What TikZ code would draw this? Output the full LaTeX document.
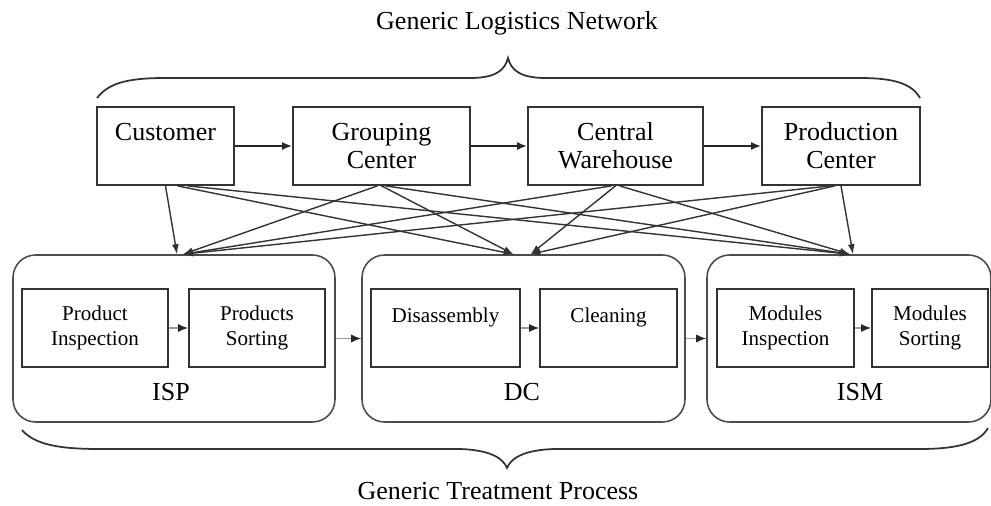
\documentclass[tikz,border=0pt]{standalone}
\usepackage{fontspec}
\setmainfont{Liberation Serif}
\usetikzlibrary{positioning, arrows.meta, calc}

\begin{document}
\begin{tikzpicture}[
        x=0.02cm, y=-0.02cm,
        site/.style={rectangle, draw=black!80, line width=1pt, minimum height=1.56cm, align=center, font=\fontsize{14.8}{15.9}\selectfont},
        unit/.style={rectangle, draw=black!70, line width=0.9pt, rounded corners=0.45cm, minimum height=3.34cm},
        task/.style={rectangle, draw=black!80, line width=1pt, minimum height=1.56cm, align=center, font=\fontsize{12}{14.2}\selectfont},
        tag/.style={font=\fontsize{14.8}{16}\selectfont},
        flow/.style={-{Latex[length=0.2cm, width=0.16cm]}, line width=1.1pt, black!85},
        link/.style={-{Latex[length=0.2cm, width=0.14cm]}, line width=0.8pt, black!80},
        inner/.style={-{Latex[length=0.2cm, width=0.16cm, color=black!85]}, line width=0.8pt, black!40},
        brace/.style={line width=1pt, black!80}
    ]
    \useasboundingbox (0,0) rectangle (991,506);

    % Network sites
    \node[site, minimum width=2.74cm] (cust) at (165.5,146) {Customer\\\mbox{}};
    \node[site, minimum width=3.54cm] (group) at (381.5,146) {Grouping\\Center};
    \node[site, minimum width=3.5cm] (ware) at (615.5,146) {Central\\Warehouse};
    \node[site, minimum width=3.16cm] (prod) at (841,146) {Production\\Center};

    \draw[flow] (cust) -- (group);
    \draw[flow] (group) -- (ware);
    \draw[flow] (ware) -- (prod);

    % Treatment units
    \node[unit, minimum width=6.44cm] (isp) at (174,338.5) {};
    \node[unit, minimum width=6.46cm] (dc) at (523.5,338.5) {};
    \node[unit, minimum width=5.68cm] (ism) at (849,338.5) {};

    \node[task, minimum width=2.92cm] (pinsp) at (95,328) {Product\\Inspection};
    \node[task, minimum width=2.72cm] (psort) at (257,328) {Products\\Sorting};
    \node[task, minimum width=2.98cm] (disas) at (445.5,328) {Disassembly\\\mbox{}};
    \node[task, minimum width=2.74cm] (clean) at (608.5,328) {Cleaning\\\mbox{}};
    \node[task, minimum width=2.74cm] (minsp) at (785.5,328) {Modules\\Inspection};
    \node[task, minimum width=2.32cm] (msort) at (930,328) {Modules\\Sorting};

    \node[tag] (isplab) at (171,392) {ISP};
    \node[tag] (dclab) at (522,392) {DC};
    \node[tag] (ismlab) at (860,392) {ISM};

    \draw[inner] (pinsp) -- (psort);
    \draw[inner] (disas) -- (clean);
    \draw[inner] (minsp) -- (msort);
    \draw[inner] (isp) -- (dc);
    \draw[inner] (dc) -- (ism);

    % Every site feeds every unit
    \foreach \src/\sx/\dst/\dx in {cust/0/isp/3, cust/12/dc/-10, cust/22/ism/1,
            group/-4/isp/9, group/0/dc/-10, group/4/ism/1,
            ware/-4/isp/9, ware/0/dc/7, ware/4/ism/1,
            prod/-10/isp/9, prod/-6/dc/7, prod/0/ism/4} {
        \draw[link] ($(\src.south)+(\sx,0)$) -- ($(\dst.north)+(\dx,0)$);
    }

    % Braces and titles
    \draw[brace] (97,98) .. controls (108,84) and (125,78) .. (165,78) -- (470,78)
        .. controls (496,78) and (505,70) .. (508,58)
        .. controls (511,70) and (520,78) .. (546,78) -- (860,78)
        .. controls (895,78) and (912,84) .. (920,98);
    \draw[brace] (22,430) .. controls (35,445) and (60,449) .. (100,449) -- (460,449)
        .. controls (490,450) and (503,458) .. (507,468)
        .. controls (511,458) and (524,450) .. (554,449) -- (920,449)
        .. controls (960,449) and (980,442) .. (988,428);

    \node[tag] (nettitle) at (517,23) {Generic Logistics Network};
    \node[tag] (proctitle) at (498,491) {Generic Treatment Process};
\end{tikzpicture}
\end{document}
